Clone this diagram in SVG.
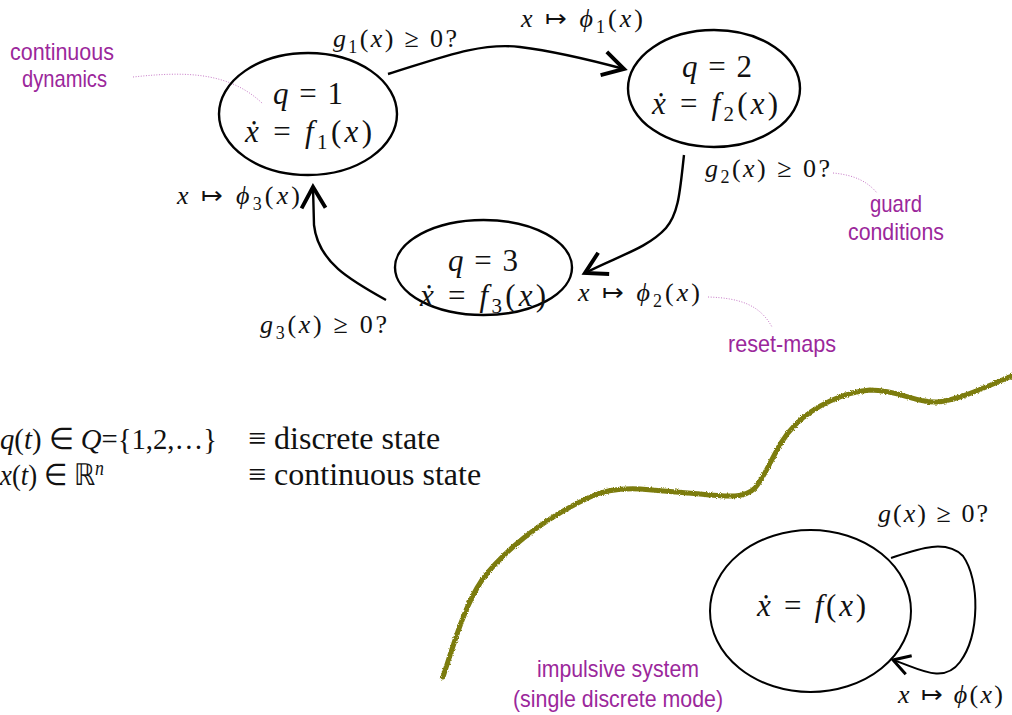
<svg xmlns="http://www.w3.org/2000/svg" width="1012" height="715" viewBox="0 0 1012 715">
<style>
.st{fill:none;stroke:#000;stroke-width:2.4}
.st2{fill:none;stroke:#000;stroke-width:2}
.m{font-family:"Liberation Serif","Times New Roman",serif;fill:#111}
.n{font-size:31px}
.l{font-size:26px}
.i{font-style:italic}
.p{font-family:"Liberation Sans",Arial,sans-serif;font-size:24px;fill:#9b279b}
.dot{fill:none;stroke:#c77ac7;stroke-width:1;stroke-dasharray:1 1.6}
.tx{font-family:"Liberation Serif","Times New Roman",serif;font-size:32px;fill:#111}
.tl{font-family:"Liberation Serif","Times New Roman",serif;font-size:30px;fill:#111}
</style>
<defs>
<marker id="ah" markerUnits="userSpaceOnUse" markerWidth="30" markerHeight="30" refX="0" refY="0" viewBox="-16 -10 20 20" orient="auto">
<path d="M-14,-8 L0,0 L-14,8" fill="none" stroke="#000" stroke-width="2.6"/>
</marker>
<marker id="ah2" markerUnits="userSpaceOnUse" markerWidth="30" markerHeight="30" refX="0" refY="0" viewBox="-16 -10 20 20" orient="auto">
<path d="M-11,-6.5 L0,0 L-11,6.5" fill="none" stroke="#000" stroke-width="2"/>
</marker>
<filter id="rough" x="-5%" y="-5%" width="110%" height="110%">
<feTurbulence type="fractalNoise" baseFrequency="1.3" numOctaves="2" seed="3"/>
<feDisplacementMap in="SourceGraphic" scale="3" xChannelSelector="R" yChannelSelector="G"/>
</filter>
</defs>

<g id="edges">
<path class="st" d="M388,74 C440,58 480,42 520,47 C560,52 598,62 624,69" marker-end="url(#ah)"/>
<path class="st" d="M684,155 C680,190 679,213 666,228 C648,248 618,256 585,273" marker-end="url(#ah)"/>
<path class="st" d="M386,300 C350,280 318,262 314,225 L313,187" marker-end="url(#ah)"/>
<path class="st2" d="M891,558 C915,550 945,538 963,556 C980,580 980,635 960,662 C943,685 918,668 893,660" marker-end="url(#ah2)"/>
<path class="dot" d="M133,77 C180,72 228,70 263,104"/>
<path class="dot" d="M833,173 C855,175 868,182 877,193"/>
<path class="dot" d="M708,297 C740,298 760,305 772,327"/>
</g>

<g id="node1">
<ellipse class="st" cx="308" cy="114" rx="89" ry="61"/>
<text class="m n" x="273" y="104" textLength="70" lengthAdjust="spacing"><tspan class="i">q</tspan> = 1</text>
<text class="m n" x="245" y="142" textLength="127" lengthAdjust="spacing"><tspan class="i">&#x1E8B;</tspan> = <tspan class="i">f</tspan><tspan font-size="21" dy="7">1</tspan><tspan dy="-7">(</tspan><tspan class="i">x</tspan>)</text>
</g>

<g id="node2">
<ellipse class="st" cx="714" cy="88.5" rx="86" ry="58.5"/>
<text class="m n" x="682" y="77" textLength="70" lengthAdjust="spacing"><tspan class="i">q</tspan> = 2</text>
<text class="m n" x="652" y="114" textLength="126" lengthAdjust="spacing"><tspan class="i">&#x1E8B;</tspan> = <tspan class="i">f</tspan><tspan font-size="21" dy="7">2</tspan><tspan dy="-7">(</tspan><tspan class="i">x</tspan>)</text>
</g>

<g id="node3">
<ellipse class="st" cx="483.5" cy="267.5" rx="88.5" ry="47.5"/>
<text class="m n" x="448" y="271" textLength="70" lengthAdjust="spacing"><tspan class="i">q</tspan> = 3</text>
<text class="m n" x="420" y="306" textLength="126" lengthAdjust="spacing"><tspan class="i">&#x1E8B;</tspan> = <tspan class="i">f</tspan><tspan font-size="21" dy="7">3</tspan><tspan dy="-7">(</tspan><tspan class="i">x</tspan>)</text>
</g>

<g id="node4">
<ellipse class="st2" cx="810.5" cy="611" rx="100.5" ry="81"/>
<text class="m n" x="757" y="616" textLength="109" lengthAdjust="spacing"><tspan class="i">&#x1E8B;</tspan> = <tspan class="i">f</tspan>(<tspan class="i">x</tspan>)</text>
</g>

<g id="labels">
<text class="m l" x="333" y="47" textLength="124" lengthAdjust="spacing"><tspan class="i">g</tspan><tspan font-size="18" dy="6">1</tspan><tspan dy="-6">(</tspan><tspan class="i">x</tspan>) ≥ 0?</text>
<text class="m l" x="521" y="27" textLength="122" lengthAdjust="spacing"><tspan class="i">x</tspan> ↦ <tspan class="i">ϕ</tspan><tspan font-size="18" dy="6">1</tspan><tspan dy="-6">(</tspan><tspan class="i">x</tspan>)</text>
<text class="m l" x="705" y="177" textLength="125" lengthAdjust="spacing"><tspan class="i">g</tspan><tspan font-size="18" dy="6">2</tspan><tspan dy="-6">(</tspan><tspan class="i">x</tspan>) ≥ 0?</text>
<text class="m l" x="177" y="204" textLength="123" lengthAdjust="spacing"><tspan class="i">x</tspan> ↦ <tspan class="i">ϕ</tspan><tspan font-size="18" dy="6">3</tspan><tspan dy="-6">(</tspan><tspan class="i">x</tspan>)</text>
<text class="m l" x="578" y="301" textLength="122" lengthAdjust="spacing"><tspan class="i">x</tspan> ↦ <tspan class="i">ϕ</tspan><tspan font-size="18" dy="6">2</tspan><tspan dy="-6">(</tspan><tspan class="i">x</tspan>)</text>
<text class="m l" x="260" y="333" textLength="127" lengthAdjust="spacing"><tspan class="i">g</tspan><tspan font-size="18" dy="6">3</tspan><tspan dy="-6">(</tspan><tspan class="i">x</tspan>) ≥ 0?</text>
<text class="m l" x="878" y="522" textLength="110" lengthAdjust="spacing"><tspan class="i">g</tspan>(<tspan class="i">x</tspan>) ≥ 0?</text>
<text class="m l" x="898" y="703" textLength="105" lengthAdjust="spacing"><tspan class="i">x</tspan> ↦ <tspan class="i">ϕ</tspan>(<tspan class="i">x</tspan>)</text>
</g>

<g id="annotations">
<text class="p" x="10" y="60" textLength="104" lengthAdjust="spacingAndGlyphs">continuous</text>
<text class="p" x="22" y="87" textLength="85" lengthAdjust="spacingAndGlyphs">dynamics</text>
<text class="p" x="870" y="212" textLength="52" lengthAdjust="spacingAndGlyphs">guard</text>
<text class="p" x="848" y="240" textLength="96" lengthAdjust="spacingAndGlyphs">conditions</text>
<text class="p" x="728" y="352" textLength="108" lengthAdjust="spacingAndGlyphs">reset-maps</text>
<text class="p" x="537" y="677" textLength="162" lengthAdjust="spacingAndGlyphs">impulsive system</text>
<text class="p" x="513" y="707" textLength="210" lengthAdjust="spacingAndGlyphs">(single discrete mode)</text>
</g>

<g id="legend">
<text class="tl" x="0" y="449" textLength="217" lengthAdjust="spacingAndGlyphs"><tspan class="i">q</tspan>(<tspan class="i">t</tspan>) ∈ <tspan class="i">Q</tspan>={1,2,…}</text>
<text class="tx" x="248" y="449">≡ discrete state</text>
<text class="tl" x="0" y="485" textLength="104" lengthAdjust="spacingAndGlyphs"><tspan class="i">x</tspan>(<tspan class="i">t</tspan>) ∈ ℝ<tspan class="i" font-size="20" dy="-10">n</tspan></text>
<text class="tx" x="248" y="485">≡ continuous state</text>
</g>

<g id="boundary">
<path d="M443,677 C455,640 465,605 482,580 C500,555 540,520 590,497 C605,490 620,488 640,489 L700,494 C730,497 745,498 755,488 C770,470 775,445 795,425 C815,405 845,392 870,390 C900,390 915,403 937,402 C960,400 990,385 1012,376" fill="none" stroke="#7b7b0c" stroke-width="5" stroke-linecap="round" filter="url(#rough)"/>
</g>
</svg>
